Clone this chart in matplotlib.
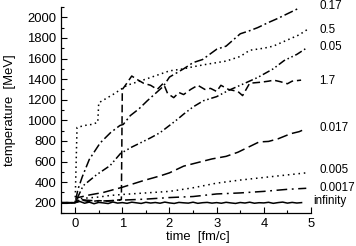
import numpy as np
import matplotlib
matplotlib.use("Agg")
import matplotlib.pyplot as plt
from matplotlib.ticker import MultipleLocator

plt.rcParams["font.family"] = ["Liberation Sans", "DejaVu Sans"]

# curves: time [fm/c] -> temperature [MeV], one per label
x_017 = [-0.3, 0.0, 0.06, 0.15, 0.3, 0.53, 0.75, 0.95, 1.02, 1.17, 1.35, 1.53, 1.7, 1.87, 2.0,
         2.3, 2.5, 2.7, 2.85, 3.0, 3.2, 3.5, 3.7, 3.87, 4.1, 4.3, 4.57, 4.75]
y_017 = [200, 200, 330, 450, 620, 780, 880, 950, 960, 1046, 1110, 1190, 1260, 1330, 1420,
         1500, 1560, 1590, 1640, 1690, 1720, 1840, 1870, 1900, 1950, 1990, 2050, 2090]

x_05 = [-0.3, 0.0, 0.04, 0.2, 0.35, 0.48, 0.5, 0.8, 1.1, 1.5, 2.0, 2.3, 2.5, 2.8, 3.0, 3.2,
        3.5, 3.7, 4.0, 4.2, 4.5, 4.75, 4.95]
y_05 = [200, 200, 930, 950, 960, 980, 1170, 1250, 1340, 1400, 1480, 1500, 1520, 1545, 1560, 1575,
        1620, 1680, 1700, 1720, 1780, 1830, 1890]

x_005b = [-0.3, 0.0, 0.17, 0.45, 0.74, 0.96, 1.2, 1.38, 1.6, 1.8, 2.0, 2.17, 2.3, 2.5, 2.72,
          3.0, 3.25, 3.5, 3.87, 4.2, 4.43, 4.7, 4.9]
y_005b = [200, 200, 365, 470, 560, 677, 740, 780, 830, 880, 950, 1010, 1060, 1130, 1190,
          1230, 1290, 1340, 1416, 1500, 1580, 1640, 1700]

x_17 = [-0.3, 0.0, 0.1, 0.3, 0.5, 0.7, 0.98, 1.0, 1.05, 1.2, 1.3, 1.45, 1.6, 1.74, 1.87, 1.96,
        2.09, 2.2, 2.3, 2.45, 2.6, 2.75, 2.87, 3.0, 3.09, 3.25, 3.45, 3.55, 3.7, 3.94, 4.1,
        4.21, 4.35, 4.5, 4.6, 4.79]
y_17 = [200, 200, 230, 210, 220, 215, 230, 1300, 1330, 1430, 1400, 1360, 1340, 1300, 1360, 1260,
        1220, 1270, 1250, 1300, 1340, 1300, 1310, 1280, 1340, 1300, 1280, 1240, 1360, 1370, 1380,
        1390, 1375, 1355, 1380, 1390]

x_0017b = [-0.3, 0.0, 0.06, 0.3, 0.6, 1.0, 1.45, 1.8, 2.0, 2.3, 2.6, 2.9, 3.2, 3.45, 3.72,
           3.9, 4.1, 4.3, 4.57, 4.75, 4.9]
y_0017b = [200, 200, 250, 275, 300, 350, 415, 460, 490, 555, 590, 625, 650, 690, 750,
           790, 795, 820, 870, 890, 920]

x_0005 = [-0.3, 0.0, 0.1, 0.5, 0.74, 1.0, 1.5, 2.0, 2.5, 3.0, 3.5, 4.0, 4.5, 4.9]
y_0005 = [200, 200, 240, 255, 270, 280, 295, 310, 345, 390, 420, 445, 470, 490]

x_00017 = [-0.3, 0.0, 0.1, 0.5, 1.0, 1.5, 2.0, 2.5, 3.0, 3.5, 4.0, 4.5, 4.9]
y_00017 = [200, 200, 230, 215, 225, 235, 250, 260, 285, 295, 310, 330, 340]

y_inf = [200, 212, 195, 206, 190, 203, 198, 192, 207, 196, 201, 194, 205, 199, 193, 204, 197,
         202, 195, 206, 198, 193, 203, 199, 196, 205, 194, 200, 203, 196, 201, 195, 204, 198,
         193, 202, 197, 205, 195, 200, 198, 204, 194, 201, 206, 196, 203, 197, 201]
x_inf = [-0.3] + list(np.linspace(0.0, 4.8, len(y_inf)))
y_inf = [200] + y_inf

labels = ["0.17", "0.5", "0.05", "1.7", "0.017", "0.005", "0.0017", "infinity"]
label_y = [2110, 1877, 1712, 1381, 925, 517, 343, 217]
label_x = [5.19, 5.17, 5.17, 5.17, 5.19, 5.19, 5.19, 5.04]

fig = plt.figure(figsize=(3.56, 2.46), dpi=100)
ax = fig.add_axes([0.1713, 0.1341, 0.8736 - 0.1713, 0.9715 - 0.1341])

k = dict(color="black", lw=1.1)
ax.plot(x_inf, y_inf, ls="-", **k)
ax.plot(x_00017, y_00017, ls=(0, (7, 3, 1.2, 3)), **k)
ax.plot(x_0005, y_0005, ls=(0, (1, 2.5)), **k)
ax.plot(x_0017b, y_0017b, ls=(0, (7, 3)), **k)
ax.plot(x_17, y_17, ls=(0, (5, 2.5)), **k)
ax.plot(x_005b, y_005b, ls=(0, (5, 1.8, 1, 1.8, 1, 1.8)), **k)
ax.plot(x_05, y_05, ls=(0, (1, 2.2)), **k)
ax.plot(x_017, y_017, ls=(0, (6, 2, 1.2, 2)), **k)

for lab, lx, ly in zip(labels, label_x, label_y):
    ax.text(lx, ly, lab, fontsize=8.4, va="center", ha="left", clip_on=False)

ax.set_xlim(-0.3, 5.0)
ax.set_ylim(100, 2100)
ax.xaxis.set_major_locator(MultipleLocator(1))
ax.xaxis.set_minor_locator(MultipleLocator(0.5))
ax.yaxis.set_major_locator(MultipleLocator(200))
ax.yaxis.set_minor_locator(MultipleLocator(100))
ax.set_yticks(range(200, 2001, 200))
ax.tick_params(which="both", direction="in", labelsize=9.4, width=0.8)
ax.tick_params(which="major", length=4)
ax.tick_params(which="minor", length=2)
for s in ["top", "right"]:
    ax.spines[s].set_visible(False)
for s in ["left", "bottom"]:
    ax.spines[s].set_linewidth(0.9)

ax.set_xlabel("time  [fm/c]", fontsize=9.4)
ax.xaxis.set_label_coords(0.546, -0.087)
ax.set_ylabel("temperature  [MeV]", fontsize=9.4)
ax.yaxis.set_label_coords(-0.178, 0.5)

fig.savefig("out.png", dpi=100)
